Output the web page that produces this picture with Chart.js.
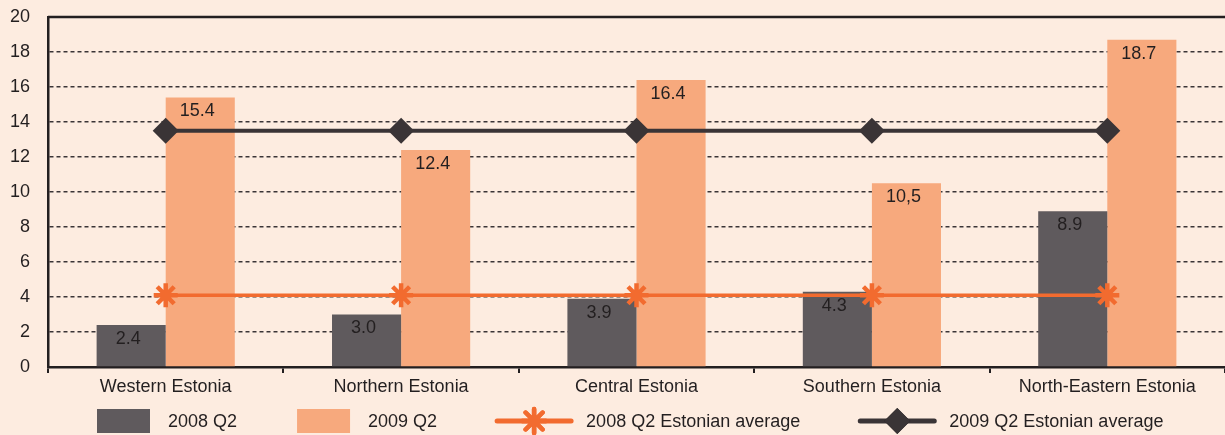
<!DOCTYPE html>
<html>
<head>
<meta charset="utf-8">
<script src="https://cdn.jsdelivr.net/npm/chart.js@4/dist/chart.umd.min.js"></script>
<style>
  html, body { margin: 0; padding: 0; overflow: hidden; background: #fdece0; }
  canvas { display: block; }
</style>
</head>
<body>
<canvas id="chart" width="1225" height="435"></canvas>
<script>
/* --------------- Data --------------- */
const regions = ["Western Estonia", "Northern Estonia", "Central Estonia", "Southern Estonia", "North-Eastern Estonia"];
const values2008 = [2.4, 3.0, 3.9, 4.3, 8.9];
const values2009 = [15.4, 12.4, 16.4, 10.5, 18.7];
const labels2008 = ["2.4", "3.0", "3.9", "4.3", "8.9"];
const labels2009 = ["15.4", "12.4", "16.4", "10,5", "18.7"];
const avg2008 = [4.1, 4.1, 4.1, 4.1, 4.1];
const avg2009 = [13.5, 13.5, 13.5, 13.5, 13.5];
const yTicks = [0, 2, 4, 6, 8, 10, 12, 14, 16, 18, 20];

/* --------------- Colours --------------- */
const darkBar = "#5f5a5d";
const salmon = "#f7a97d";
const orange = "#f26b2f";
const darkLine = "#3a3436";
const textCol = "#231f20";
const FONT = "Arial, 'Liberation Sans', sans-serif";

// the plot area runs a little past the right edge of the picture
const OVER_RIGHT = -16;

// value labels inside the top of each bar
const barLabels = {
  id: "barLabels",
  afterDatasetsDraw(chart) {
    const ctx = chart.ctx;
    ctx.save();
    ctx.font = "18px " + FONT;
    ctx.fillStyle = textCol;
    ctx.textAlign = "center";
    ctx.textBaseline = "middle";
    chart.data.datasets.forEach((ds, i) => {
      if (!ds.valueLabels) return;
      chart.getDatasetMeta(i).data.forEach((bar, j) => {
        ctx.fillText(ds.valueLabels[j], bar.x - 3, bar.y + 14);
      });
    });
    ctx.restore();
  },
};

// solid top frame line + legend at the bottom
const frameAndLegend = {
  id: "frameAndLegend",
  afterDraw(chart) {
    const ctx = chart.ctx;
    const area = chart.chartArea;
    ctx.save();
    ctx.strokeStyle = textCol;
    ctx.lineWidth = 2.5;
    ctx.beginPath();
    ctx.moveTo(area.left, area.top);
    ctx.lineTo(Math.max(area.right, chart.width), area.top);
    ctx.stroke();

    // legend
    const yMid = 421;
    let x = 97;
    ctx.font = "18px " + FONT;
    ctx.textBaseline = "middle";
    ctx.textAlign = "left";
    chart.data.datasets.forEach((ds) => {
      if (ds.type === "line") {
        ctx.strokeStyle = ds.borderColor;
        ctx.lineWidth = 5;
        ctx.lineCap = "round";
        ctx.beginPath();
        ctx.moveTo(x, yMid);
        ctx.lineTo(x + 74, yMid);
        ctx.stroke();
        ctx.lineWidth = ds.pointBorderWidth || 1;
        Chart.helpers.drawPoint(ctx, {
          pointStyle: ds.pointStyle,
          radius: ds.pointRadius,
          borderWidth: ds.pointBorderWidth,
          rotation: 0,
        }, x + 37, yMid);
        if (ds.pointStyle === "rectRot") {
          ctx.fillStyle = ds.pointBackgroundColor;
          ctx.fill();
        } else {
          ctx.stroke();
        }
        x += 74 + 15;
      } else {
        ctx.fillStyle = ds.backgroundColor;
        ctx.fillRect(x, yMid - 12, 53, 24);
        x += 53 + 18;
      }
      ctx.fillStyle = textCol;
      ctx.fillText(ds.label, x, yMid + 1);
      x += ctx.measureText(ds.label).width + 60;
    });
    ctx.restore();
  },
};

new Chart(document.getElementById("chart"), {
  type: "bar",
  plugins: [barLabels, frameAndLegend],
  data: {
    labels: regions,
    datasets: [
      {
        label: "2008 Q2",
        data: values2008,
        valueLabels: labels2008,
        backgroundColor: darkBar,
        order: 2,
        barPercentage: 1,
        categoryPercentage: 0.587,
      },
      {
        label: "2009 Q2",
        data: values2009,
        valueLabels: labels2009,
        backgroundColor: salmon,
        order: 2,
        barPercentage: 1,
        categoryPercentage: 0.587,
      },
      {
        type: "line",
        label: "2008 Q2 Estonian average",
        data: avg2008,
        borderColor: orange,
        borderWidth: 3.5,
        pointStyle: "star",
        pointRadius: 12,
        pointBorderWidth: 4.5,
        pointBorderColor: orange,
        pointBackgroundColor: orange,
        order: 1,
      },
      {
        type: "line",
        label: "2009 Q2 Estonian average",
        data: avg2009,
        borderColor: darkLine,
        borderWidth: 4,
        pointStyle: "rectRot",
        pointRadius: 13,
        pointBorderWidth: 0,
        pointBorderColor: darkLine,
        pointBackgroundColor: darkLine,
        order: 0,
      },
    ],
  },
  options: {
    responsive: false,
    animation: false,
    layout: { autoPadding: false, padding: { top: 17, right: OVER_RIGHT, left: 0, bottom: 0 } },
    plugins: {
      legend: { display: false },
      tooltip: { enabled: false },
    },
    scales: {
      x: {
        offset: true,
        afterFit: (scale) => {
          scale.height = 68;
          scale.paddingLeft = 0;
          scale.paddingRight = OVER_RIGHT;
        },
        grid: {
          offset: true,
          drawOnChartArea: false,
          drawTicks: true,
          tickLength: 6,
          color: textCol,
          lineWidth: 2,
        },
        border: { display: true, color: textCol, width: 2.5 },
        ticks: {
          color: textCol,
          font: { family: FONT, size: 18 },
          padding: 3,
          maxRotation: 0,
          autoSkip: false,
        },
      },
      y: {
        min: 0,
        max: 20,
        afterFit: (scale) => {
          scale.width = 48;
          scale.paddingTop = 0;
          scale.paddingBottom = 0;
          scale.paddingRight = OVER_RIGHT;
        },
        afterBuildTicks: (scale) => { scale.ticks = yTicks.map((v) => ({ value: v })); },
        grid: {
          color: darkLine,
          lineWidth: 1.5,
          drawTicks: false,
        },
        border: { display: true, color: textCol, width: 2.5, dash: [4, 3] },
        ticks: {
          color: textCol,
          font: { family: FONT, size: 18 },
          padding: 18,
        },
      },
    },
  },
});
</script>
</body>
</html>
